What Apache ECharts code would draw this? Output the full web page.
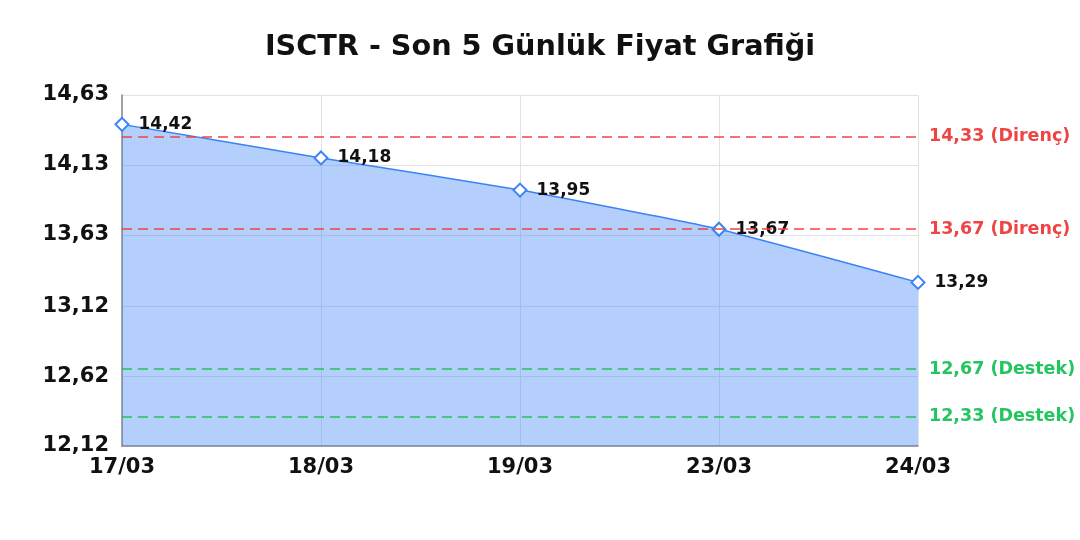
<!DOCTYPE html>
<html><head><meta charset="utf-8">
<script src="https://cdn.jsdelivr.net/npm/echarts@6/dist/echarts.min.js"></script>
<style>html,body{margin:0;padding:0;background:#fff}#c{width:1080px;height:540px}</style>
</head><body><div id="c"></div>
<script>
const categories = ['17/03','18/03','19/03','23/03','24/03'];
const prices = [14.42, 14.18, 13.95, 13.67, 13.29];
const yTicks = [12.12, 12.62, 13.12, 13.63, 14.13, 14.63];
const resistance = [14.33, 13.67];
const support = [12.67, 12.33];
const fmt = v => v.toFixed(2).replace('.', ',');
const FONT = 'DejaVu Sans';
const W = 700;
const marks = [];
resistance.forEach(v => marks.push({yAxis: v, lineStyle:{color:'#ef4444'}, label:{color:'#ef4444', formatter: fmt(v) + ' (Direnç)'}}));
support.forEach(v => marks.push({yAxis: v, lineStyle:{color:'#22c55e'}, label:{color:'#22c55e', formatter: fmt(v) + ' (Destek)'}}));
const chart = echarts.init(document.getElementById('c'));
chart.setOption({
  animation: false,
  textStyle: {fontFamily: FONT},
  title: {text: 'ISCTR - Son 5 Günlük Fiyat Grafiği', left: 'center', top: 28,
    textStyle: {fontFamily: FONT, fontWeight: W, fontSize: 28.7, color: '#111'}},
  grid: {left: 122, right: 162, top: 95, bottom: 94},
  xAxis: {type: 'category', data: categories, boundaryGap: false,
    axisLine: {lineStyle: {color: '#888', width: 1.5}},
    axisTick: {show: false},
    axisLabel: {fontFamily: FONT, fontWeight: W, fontSize: 21, color: '#111', margin: 11},
    splitLine: {show: true, lineStyle: {color: '#e2e2e2'}}},
  yAxis: {type: 'value', min: yTicks[0], max: yTicks[yTicks.length-1],
    axisLine: {show: true, lineStyle: {color: '#888', width: 1.5}},
    axisTick: {show: false, customValues: yTicks},
    axisLabel: {customValues: yTicks, fontFamily: FONT, fontWeight: W, fontSize: 21, color: '#111', margin: 13, formatter: v => fmt(v)},
    splitLine: {show: true, lineStyle: {color: '#e2e2e2'}}},
  series: [{
    type: 'line', data: prices, smooth: 0.15,
    symbol: 'emptyDiamond', symbolSize: 13,
    lineStyle: {color: '#3b82f6', width: 1.5},
    itemStyle: {color: '#3b82f6', borderWidth: 2},
    areaStyle: {color: '#3b82f6', opacity: 0.38},
    label: {show: true, position: 'right', distance: 9, formatter: p => fmt(p.value),
      fontFamily: FONT, fontWeight: W, fontSize: 17, color: '#111'},
    markLine: {silent: true, symbol: 'none',
      lineStyle: {type: [10, 6], width: 1.5},
      label: {position: 'end', distance: 11, fontFamily: FONT, fontWeight: W, fontSize: 17.5},
      data: marks}
  }]
});
</script></body></html>
